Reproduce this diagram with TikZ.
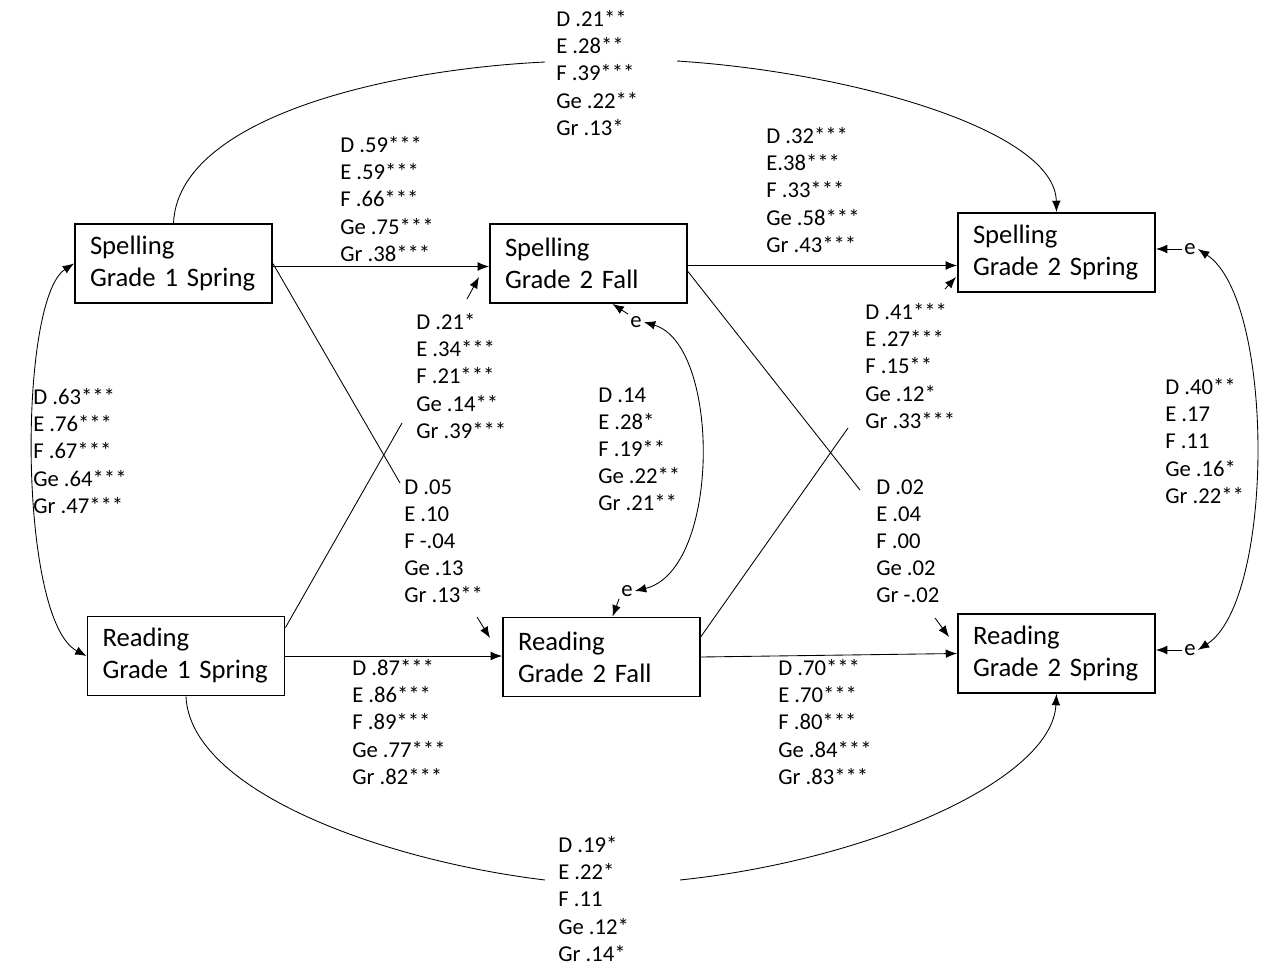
\documentclass[tikz,border=0pt]{standalone}
\usepackage{fontspec}
\setmainfont{Carlito}
\usetikzlibrary{arrows.meta,calc}
\begin{document}
\begin{tikzpicture}[x=0.75pt,y=-0.75pt,
  box/.style={draw, line width=1.4pt, minimum width=147.75pt, minimum height=59.25pt,
    text width=125.25pt, inner xsep=11.25pt, inner ysep=0pt, align=left,
    font=\fontsize{20}{24}\selectfont},
  lab/.style={align=left, inner sep=0pt, anchor=west, font=\fontsize{17}{20.3}\selectfont},
  ee/.style={inner sep=1.5pt, font=\fontsize{17}{20}\selectfont},
  ln/.style={line width=0.65pt},
  arr/.style={ln, -{Latex[length=8.5pt,width=6.5pt]}},
  dbl/.style={ln, {Latex[length=8.5pt,width=6.5pt]}-{Latex[length=8.5pt,width=6.5pt]}}]
\useasboundingbox (0,0) rectangle (1261,967);

% boxes
\node[box] (S1)  at (173.5,263.5) {Spelling\\Grade 1 Spring};
\node[box] (S2F) at (588.5,263.5) {Spelling\\Grade 2 Fall};
\node[box] (S2S) at (1056.5,252.5) {Spelling\\Grade 2 Spring};
\node[box] (R1)  at (186,656) {Reading\\Grade 1 Spring};
\node[box] (R2F) at (601.5,657) {Reading\\Grade 2 Fall};
\node[box] (R2S) at (1056.5,653.5) {Reading\\Grade 2 Spring};

% labels
\node[lab] (Ltop) at (556,73) {D .21**\\E .28**\\F .39***\\Ge .22**\\Gr .13*};
\node[lab] (Lss1) at (340,199) {D .59***\\E .59***\\F .66***\\Ge .75***\\Gr .38***};
\node[lab] (Lss2) at (766,190) {D .32***\\E.38***\\F .33***\\Ge .58***\\Gr .43***};
\node[lab] (Lcv1) at (33,451) {D .63***\\E .76***\\F .67***\\Ge .64***\\Gr .47***};
\node[lab] (Lrs1) at (416,376) {D .21*\\E .34***\\F .21***\\Ge .14**\\Gr .39***};
\node[lab] (Lsr1) at (404,541) {D .05\\E .10\\F -.04\\Ge .13\\Gr .13**};
\node[lab] (Lcv2) at (598,449) {D .14\\E .28*\\F .19**\\Ge .22**\\Gr .21**};
\node[lab] (Lrs2) at (865,366) {D .41***\\E .27***\\F .15**\\Ge .12*\\Gr .33***};
\node[lab] (Lsr2) at (876,541) {D .02\\E .04\\F .00\\Ge .02\\Gr -.02};
\node[lab] (Lcv3) at (1165,441) {D .40**\\E .17\\F .11\\Ge .16*\\Gr .22**};
\node[lab] (Lrr1) at (352,722) {D .87***\\E .86***\\F .89***\\Ge .77***\\Gr .82***};
\node[lab] (Lrr2) at (778,722) {D .70***\\E .70***\\F .80***\\Ge .84***\\Gr .83***};
\node[lab] (Lbot) at (558,899) {D .19*\\E .22*\\F .11\\Ge .12*\\Gr .14*};

% error terms
\node[ee] (e1) at (636,322) {e};
\node[ee] (e2) at (627,591) {e};
\node[ee] (e3) at (1190,249) {e};
\node[ee] (e4) at (1190,650) {e};

% helper coordinates
\coordinate (t1) at (545,62);
\coordinate (t2) at (677,61);
\coordinate (b1) at (545,880);
\coordinate (b2) at (680,880);
\coordinate (d1a) at (400,483);
\coordinate (d1b) at (477,617);
\coordinate (d1c) at (490,638);
\coordinate (d2a) at (402,423);
\coordinate (d2b) at (467,299);
\coordinate (d2c) at (479,277);
\coordinate (d3a) at (860,490);
\coordinate (d3b) at (935,618);
\coordinate (d3c) at (949,637);
\coordinate (d4a) at (848,428);
\coordinate (d4b) at (945,289);
\coordinate (d4c) at (956,277);
\coordinate (h1) at ($(S1.east)+(0,3)$);
\coordinate (h2) at ($(S2F.east)+(0,2)$);

% horizontal paths
\draw[arr] (h1) -- (h1 -| S2F.west);
\draw[arr] (h2) -- (h2 -| S2S.west);
\draw[arr] (R1.east) -- (R1.east -| R2F.west);
\draw[arr] (R2F.east) -- (R2S.west);

% diagonal paths
\draw[ln] (S1.east) -- (d1a);
\draw[arr] (d1b) -- (d1c);
\draw[ln] ($(R1.north east)+(0,12)$) -- (d2a);
\draw[arr] (d2b) -- (d2c);
\draw[ln] ($(S2F.east)+(0,8)$) -- (d3a);
\draw[arr] (d3b) -- (d3c);
\draw[ln] ($(R2F.north east)+(0,20)$) -- (d4a);
\draw[arr] (d4b) -- (d4c);

% top and bottom arcs
\draw[ln] (S1.north) .. controls (178,120) and (380,70) .. (t1);
\draw[arr] (t2) .. controls (850,72) and (1055,130) .. (S2S.north);
\draw[ln] (R1.south) .. controls (190,790) and (380,860) .. (b1);
\draw[arr] (b2) .. controls (870,860) and (1052,780) .. (R2S.south);

% covariances
\draw[dbl] (S1.west) .. controls (18,300) and (18,620) .. (R1.west);
\draw[dbl] (e1.east) .. controls (721,345) and (721,570) .. (e2.east);
\draw[dbl] (e3.east) .. controls (1275,300) and (1275,600) .. (e4.east);

% error arrows
\draw[arr] (e1.north west) -- ($(S2F.south)+(24,0)$);
\draw[arr] (e2.south west) -- ($(R2F.north)+(11,0)$);
\draw[arr] (e3.west) -- (e3.west -| S2S.east);
\draw[arr] (e4.west) -- (e4.west -| R2S.east);
\end{tikzpicture}
\end{document}
